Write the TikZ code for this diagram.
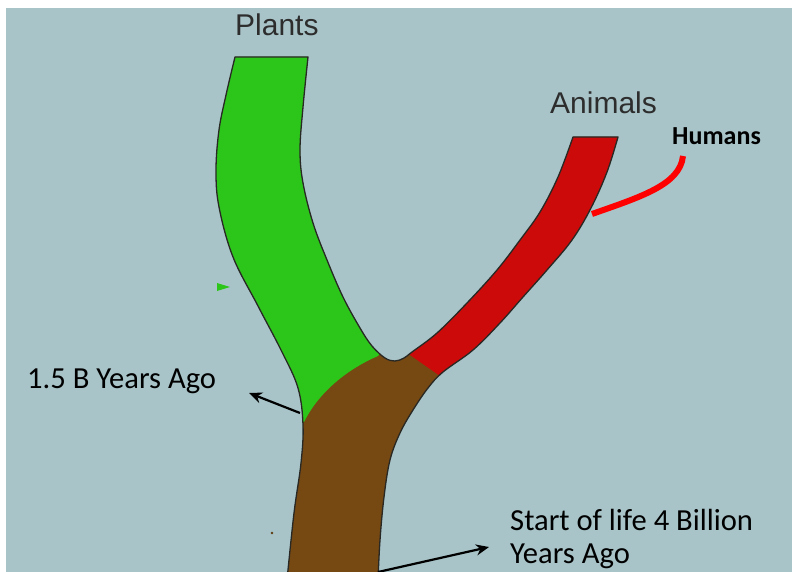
\documentclass[tikz,border=0pt]{standalone}
\usepackage{fontspec}
\setmainfont{Carlito}
\newfontfamily\arialf{Liberation Sans}
\usetikzlibrary{arrows.meta}
\definecolor{bgc}{RGB}{168,196,200}
\definecolor{plantgreen}{RGB}{44,198,26}
\definecolor{animalred}{RGB}{204,10,10}
\definecolor{trunkbrown}{RGB}{118,72,18}
\definecolor{edgec}{RGB}{40,40,36}
\definecolor{labelgrey}{RGB}{45,45,45}
\tikzset{
  ptr/.style={line width=2.2pt, black, -{Stealth[length=13pt,width=11pt]}},
  humanline/.style={line width=6pt, red},
  branchedge/.style={line width=1.3pt, edgec},
  grlabel/.style={font=\arialf\fontsize{30}{32}\selectfont, text=labelgrey, inner sep=0pt, anchor=base west},
  txlabel/.style={font=\fontsize{30.6}{33}\selectfont, text=black, inner sep=0pt, anchor=base west, align=left},
  hulabel/.style={font=\bfseries\fontsize{26}{28}\selectfont, text=black, inner sep=0pt, anchor=base west}
}
\newcommand{\treeoutline}{%
  plot[smooth, tension=0.6] coordinates {(287,580) (294,513) (301,463) (303,425) (298,388) (282,352) (258,306) (233,257) (219,207) (216,170) (219,130) (226,95) (235,57)}
  -- (308,57)
  -- plot[smooth, tension=0.6] coordinates {(308,57) (303,107) (300,150) (303,183) (313,223) (327,260) (343,297) (360,328) (372,346) (385,358) (395,361) (404,358) (412,352) (437,333) (467,303) (497,270) (520,240) (540,212) (558,177) (573,137)}
  -- (618,137)
  -- plot[smooth, tension=0.6] coordinates {(618,137) (607,172) (591,208) (572,240) (547,270) (523,297) (500,323) (473,350) (443,372) (428,388) (413,410) (400,433) (390,460) (384,497) (380,540) (378,580)}
  -- cycle}
\begin{document}
\begin{tikzpicture}[x=1pt, y=-1pt]
\useasboundingbox (0,0) rectangle (792,572);
\fill[white] (0,0) rectangle (792,572);
\fill[bgc] (6,8) rectangle (792,572);

% trunk (brown everywhere), then green and red parts by clipping
\fill[trunkbrown] \treeoutline;
\begin{scope}
  \clip (0,0) -- (390,0) -- (390,340) -- (378,356) .. controls (350,368) and (320,390) .. (304,422) -- (200,430) -- (0,430) -- cycle;
  \fill[plantgreen] \treeoutline;
\end{scope}
\begin{scope}
  \clip (396,0) -- (792,0) -- (792,300) -- (440,376) -- (410,355) -- (396,342) -- cycle;
  \fill[animalred] \treeoutline;
\end{scope}
\draw[branchedge, line join=round] \treeoutline;

% small artefacts
\fill[plantgreen] (217,283) -- (230,287) -- (217,291) -- cycle;
\fill[trunkbrown!80!black] (272,533) circle (1.3);

% labels
\node[grlabel] (plants) at (235,36) {Plants};
\node[grlabel] (animals) at (550,114) {Animals};
\node[hulabel] (humans) at (672,145) {Humans};
\node[txlabel] (onefive) at (27,388) {1.5 B Years Ago};
\node[txlabel] (startA) at (510,530) {Start of life 4 Billion};
\node[txlabel] (startB) at (510,563) {Years Ago};

% humans marker
\coordinate (hustart) at (592,214);
\coordinate (huend) at (683,156);
\draw[humanline] (hustart) .. controls (640,197) and (680,185) .. (huend);

% pointers
\coordinate (oftail) at (300,413);
\coordinate (ofhead) at (249,393);
\draw[ptr] (oftail) -- (ofhead);
\coordinate (sttail) at (378,572);
\coordinate (sthead) at (489,547);
\draw[ptr] (sttail) -- (sthead);
\end{tikzpicture}
\end{document}
